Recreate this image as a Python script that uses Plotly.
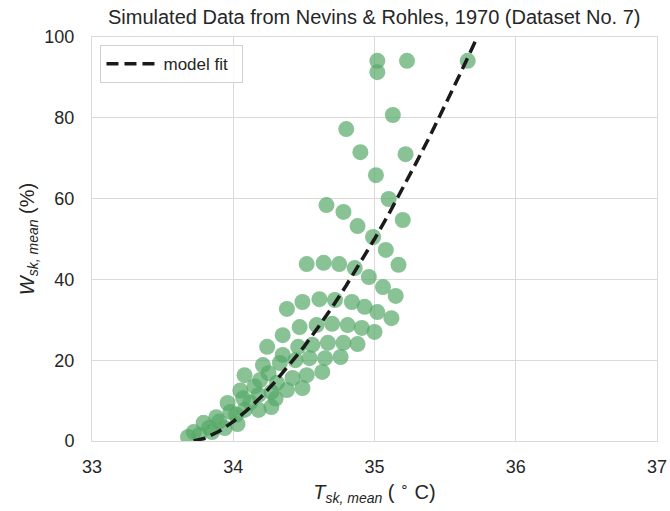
import plotly.graph_objects as go

# Simulated observations (skin temperature vs skin wettedness)
t_sk = [
    35.02, 35.02, 35.23, 35.66, 35.13, 34.80, 34.90, 35.22, 35.01, 35.10,
    34.66, 34.78, 34.88, 35.20, 34.99, 35.08, 35.17,
    34.52, 34.64, 34.75, 34.86, 34.96, 35.06, 35.15,
    34.38, 34.49, 34.61, 34.72, 34.84, 34.93, 35.02, 35.12,
    34.35, 34.47, 34.59, 34.70, 34.81, 34.91, 35.00,
    34.24, 34.35, 34.46, 34.56, 34.67, 34.78, 34.88,
    34.21, 34.33, 34.44, 34.54, 34.65, 34.76,
    34.08, 34.19, 34.31, 34.42, 34.52, 34.63,
    33.96, 34.07, 34.18, 34.27, 34.38, 34.49,
    33.88, 33.98, 34.08, 34.18, 34.27,
    33.79, 33.72, 33.68, 33.76, 33.85, 33.94, 34.03,
    34.02, 34.12, 34.05, 34.15, 33.90, 33.83, 34.25, 34.30,
]
w_sk = [
    94.1, 91.3, 94.1, 94.1, 80.7, 77.2, 71.5, 71.0, 65.8, 59.9,
    58.4, 56.7, 53.2, 54.7, 50.5, 47.3, 43.6,
    43.8, 44.1, 43.8, 42.8, 40.6, 38.1, 35.9,
    32.7, 34.4, 35.1, 34.9, 34.4, 33.2, 31.9, 30.4,
    26.2, 28.2, 28.7, 29.0, 28.7, 28.0, 27.0,
    23.3, 21.3, 23.3, 23.8, 24.3, 24.3, 24.0,
    18.8, 19.3, 20.0, 20.5, 20.5, 20.8,
    16.3, 15.1, 14.4, 15.6, 16.3, 17.1,
    9.4, 10.6, 11.4, 12.1, 12.6, 13.1,
    5.9, 7.2, 7.7, 7.7, 8.4,
    4.5, 2.2, 1.0, 1.5, 2.2, 3.2, 4.2,
    6.5, 9.5, 12.5, 13.5, 4.8, 3.3, 16.8, 10.5,
]

# Model fit curve
fit_t = [33.72, 33.8, 33.9, 34.0, 34.1, 34.2, 34.3, 34.4, 34.5, 34.6, 34.7,
         34.8, 34.9, 35.0, 35.1, 35.2, 35.3, 35.4, 35.5, 35.6, 35.7, 35.75]
fit_w = [0.0, 0.7, 2.4, 4.8, 7.7, 11.0, 14.8, 18.9, 23.3, 28.1, 33.1,
         38.5, 44.1, 50.0, 56.1, 62.5, 69.2, 76.0, 83.1, 90.4, 97.9, 101.7]

x_ticks = [33, 34, 35, 36, 37]
y_ticks = [0, 20, 40, 60, 80, 100]

FONT = "Liberation Sans, Arial, sans-serif"
GRID = "#dadada"
TXT = "#262626"

fig = go.Figure()
fig.add_trace(go.Scatter(
    x=t_sk, y=w_sk, mode="markers", showlegend=False,
    marker=dict(size=16, color="#55a868", opacity=0.7, line=dict(width=0)),
))
fig.add_trace(go.Scatter(
    x=fit_t, y=fit_w, mode="lines", name="model fit  ",
    line=dict(color="#1a1a1a", width=3.5, dash="12px,6px"),
))

fig.update_layout(
    width=670, height=511,
    margin=dict(l=92, r=13, t=37, b=70),
    paper_bgcolor="white", plot_bgcolor="white",
    font=dict(family=FONT, color=TXT, size=17),
    title=dict(text="Simulated Data from Nevins &amp; Rohles, 1970 (Dataset No. 7)",
               x=0.5585, xanchor="center", y=0.967, yanchor="middle",
               font=dict(size=20, color=TXT, family=FONT)),
    legend=dict(x=0.015, y=0.98, xanchor="left", yanchor="top",
                itemwidth=52,
                bgcolor="rgba(255,255,255,0.85)", bordercolor="#d0d0d0", borderwidth=1,
                font=dict(size=17, color=TXT, family=FONT)),
    showlegend=True,
)
fig.update_xaxes(
    range=[33, 37], tickvals=x_ticks, ticktext=[str(v) for v in x_ticks],
    showgrid=True, gridcolor=GRID, gridwidth=1,
    showline=True, linecolor=GRID, linewidth=1, mirror=True,
    zeroline=False, ticks="", ticklabelstandoff=9, automargin=False,
    tickfont=dict(size=18, color=TXT),
    title=dict(text="<i>T</i><sub><i>sk, mean</i></sub> ( <sup>∘</sup> C)",
               font=dict(size=20, color=TXT), standoff=9),
)
fig.update_yaxes(
    range=[0, 100], tickvals=y_ticks, ticktext=[str(v) for v in y_ticks],
    showgrid=True, gridcolor=GRID, gridwidth=1,
    showline=True, linecolor=GRID, linewidth=1, mirror=True,
    zeroline=False, ticks="", ticklabelstandoff=13, automargin=False,
    tickfont=dict(size=18, color=TXT),
    title=dict(text="<i>W</i><sub><i>sk, mean</i></sub> (%)",
               font=dict(size=20, color=TXT), standoff=4),
)

fig.write_html("out.html", config={"displayModeBar": False},
               post_script="document.body.style.margin='0';")
